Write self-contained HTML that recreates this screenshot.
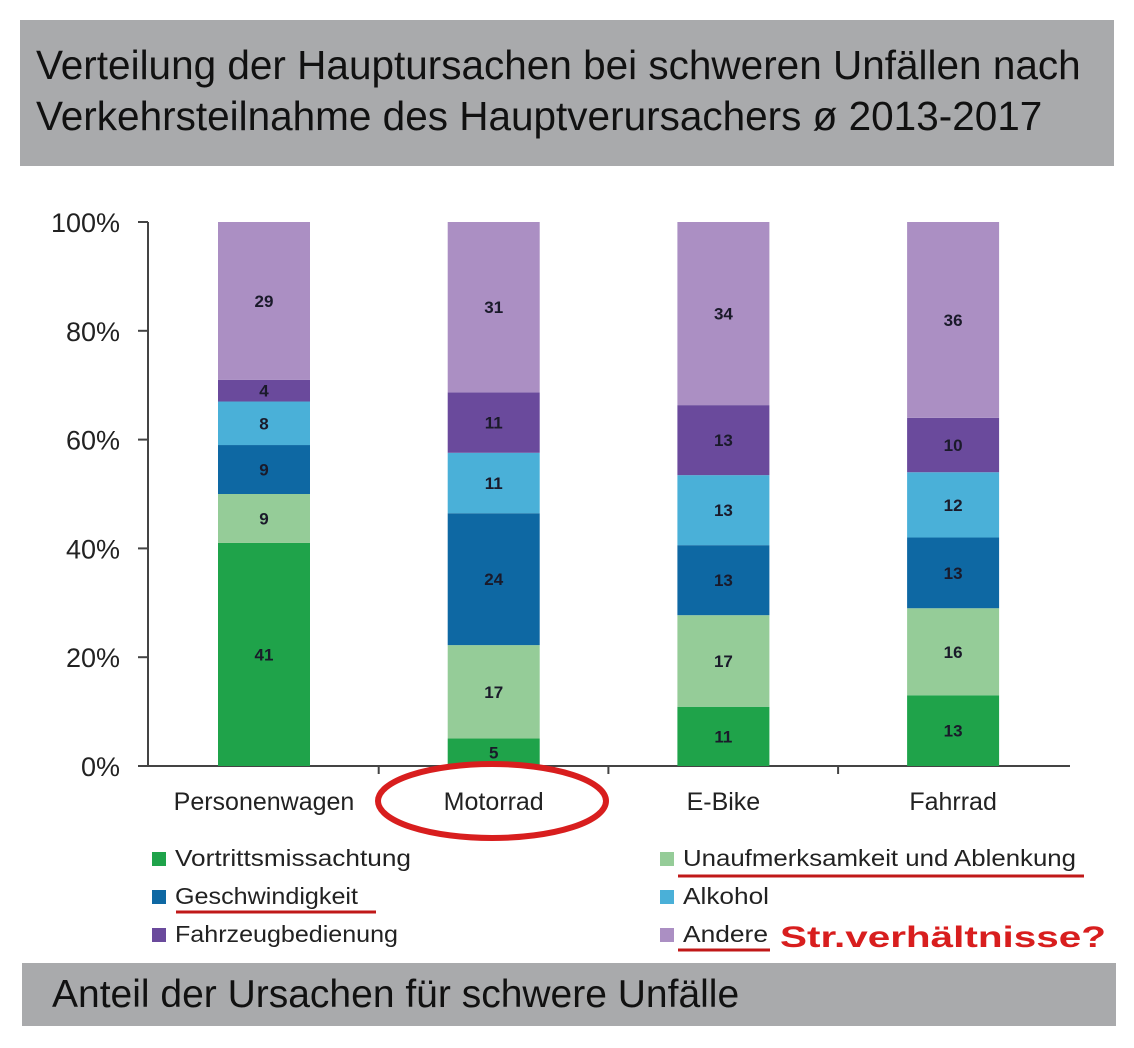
<!DOCTYPE html>
<html><head><meta charset="utf-8"><style>
body{margin:0;width:1134px;height:1048px;background:#fff;overflow:hidden;font-family:"Liberation Sans",sans-serif}
.box{position:absolute;background:#a9aaac;color:#111}
</style></head><body>
<div class="box" style="left:20px;top:20px;width:1094px;height:146px">
<div style="position:absolute;left:16px;top:20px;font-size:40.5px;line-height:51px;white-space:nowrap">Verteilung der Hauptursachen bei schweren Unfällen nach<br>Verkehrsteilnahme des Hauptverursachers ø 2013-2017</div></div>
<div class="box" style="left:22px;top:963px;width:1094px;height:63px">
<div style="position:absolute;left:30px;top:10px;font-size:39px;white-space:nowrap">Anteil der Ursachen für schwere Unfälle</div></div>
<svg id="chart" width="1134" height="1048" style="position:absolute;left:0;top:0" font-family="Liberation Sans, sans-serif"></svg>
<script>
const categories=["Personenwagen","Motorrad","E-Bike","Fahrrad"];
const seriesNames=["Vortrittsmissachtung","Unaufmerksamkeit und Ablenkung","Geschwindigkeit","Alkohol","Fahrzeugbedienung","Andere"];
const vortritt=[41,5,11,13];
const unaufmerksam=[9,17,17,16];
const geschwindigkeit=[9,24,13,13];
const alkohol=[8,11,13,12];
const fahrzeug=[4,11,13,10];
const andere=[29,31,34,36];
const yTicks=[0,20,40,60,80,100];
const series=[vortritt,unaufmerksam,geschwindigkeit,alkohol,fahrzeug,andere];
const colors=["#1fa34a","#95cc98","#0e68a3","#4ab0d8","#6a4a9c","#ab8fc3"];
const NS="http://www.w3.org/2000/svg",svg=document.getElementById("chart");
function mk(t,a,p){const e=document.createElementNS(NS,t);for(const k in a)e.setAttribute(k,a[k]);(p||svg).appendChild(e);return e;}
const y0=766,y1=222,xAx=148,xEnd=1070,bw=92;
const y=v=>y0-(y0-y1)*v/100;
const xc=i=>264+i*229.7;
let e;
e=mk("line",{x1:xAx,y1:y1,x2:xAx,y2:y0+1,stroke:"#444","stroke-width":2});


e=mk("line",{x1:xAx,y1:y0,x2:xEnd,y2:y0,stroke:"#444","stroke-width":2});


yTicks.forEach(t=>{
 e=mk("line",{x1:xAx-10,y1:y(t),x2:xAx,y2:y(t),stroke:"#444","stroke-width":2});
 
 
 e=mk("text",{x:120,y:y(t)+10,"text-anchor":"end","font-size":27,fill:"#222"});e.textContent=t+"%";
 
 
});
categories.forEach((c,i)=>{
 if(i>0){e=mk("line",{x1:xc(i)-115,y1:y0,x2:xc(i)-115,y2:y0+8,stroke:"#444","stroke-width":2});
 
 }
 const tot=series.reduce((s,a)=>s+a[i],0);let acc=0;
 series.forEach((s,j)=>{
  const v=s[i]/tot*100,top=y(acc+v),bot=y(acc);
  e=mk("rect",{x:xc(i)-bw/2,y:top,width:bw,height:bot-top,fill:colors[j]});
  
  
  e=mk("text",{x:xc(i),y:(top+bot)/2+6,"text-anchor":"middle","font-size":17,"font-weight":"bold",fill:"#1a1a2a"});e.textContent=s[i];
  
  
  acc+=v;
 });
 e=mk("text",{x:xc(i),y:810,"text-anchor":"middle","font-size":25,fill:"#222"});e.textContent=c;
 
 
});
e=mk("ellipse",{cx:492,cy:801,rx:114,ry:37,fill:"none",stroke:"#d81e1e","stroke-width":6});


const legPos=[[152,866],[660,866],[152,904],[660,904],[152,942],[660,942]];
const legW=[236,393,183,86,223,85];
seriesNames.forEach((n,j)=>{
 const [lx,ly]=legPos[j];
 e=mk("rect",{x:lx,y:ly-14,width:14,height:14,fill:colors[j]});
 
 
 e=mk("text",{x:lx+23,y:ly,"font-size":23,fill:"#222",textLength:legW[j],lengthAdjust:"spacingAndGlyphs"});e.textContent=n;
 
 
});
[[678,1084,876],[176,376,912],[678,770,950]].forEach(u=>{
 e=mk("line",{x1:u[0],y1:u[2],x2:u[1],y2:u[2],stroke:"#c01818","stroke-width":3});
 
 
});
e=mk("text",{x:780,y:947,"font-size":30,"font-weight":"bold",fill:"#d81e1e",textLength:326,lengthAdjust:"spacingAndGlyphs"});e.textContent="Str.verhältnisse?";


</script>
</body></html>
